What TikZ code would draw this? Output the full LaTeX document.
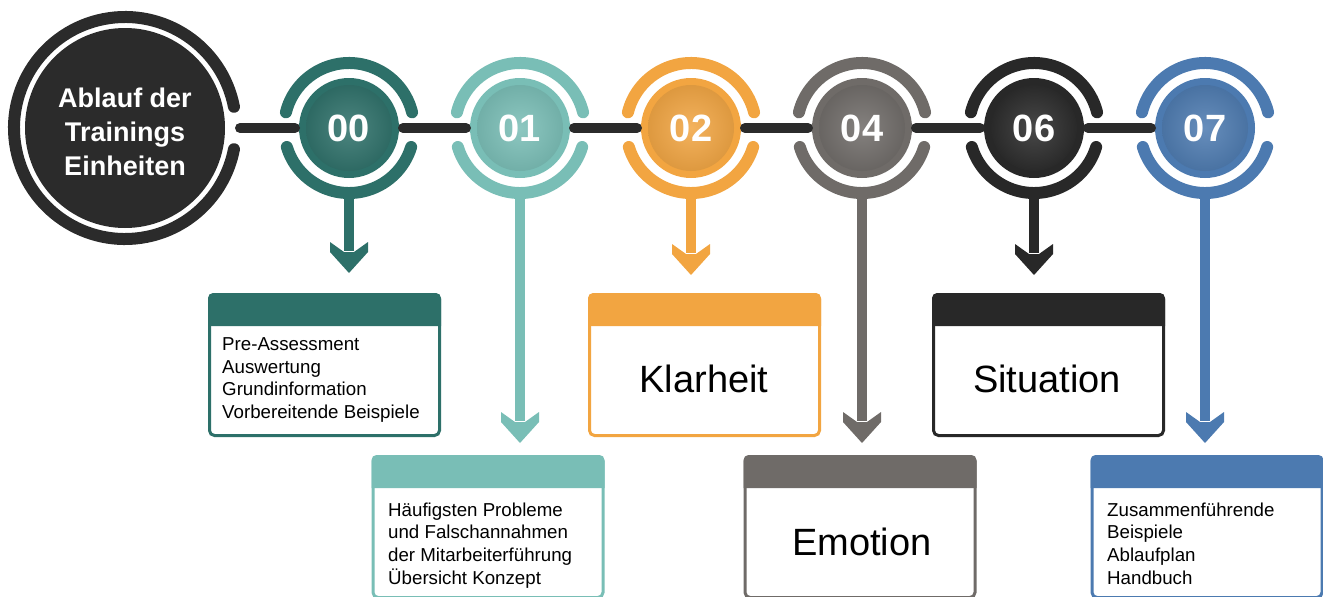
\documentclass[tikz,border=0pt]{standalone}
\usepackage{fontspec}
\setmainfont{Liberation Sans}
\usetikzlibrary{calc}
\definecolor{cA}{HTML}{2D7069}
\definecolor{cB}{HTML}{79BEB6}
\definecolor{cC}{HTML}{F2A541}
\definecolor{cD}{HTML}{6F6B68}
\definecolor{cE}{HTML}{282828}
\definecolor{cF}{HTML}{4C7AB0}
\definecolor{dark}{HTML}{2B2B2B}
\begin{document}
\begin{tikzpicture}[x=1pt,y=1pt,
  disk/.style={circle, minimum size=100pt, inner sep=0pt, outer sep=4pt, fill=#1,
    text=white, font=\bfseries\fontsize{38}{38}\selectfont,
    path picture={\shade[inner color=#1!85!white, outer color=#1!90!black]
      (path picture bounding box.center) circle (43pt);}},
  link/.style={draw=dark, line width=10pt, line cap=round},
  ring/.style={line width=12pt, line cap=round},
  stemline/.style={line width=10pt},
  box/.style={draw=#1, line width=3pt, fill=white, rounded corners=5pt,
    minimum width=230pt, minimum height=141pt, inner sep=0pt},
  listtext/.style={align=left, font=\fontsize{18.7}{22.7}\selectfont, inner sep=0pt, anchor=north west},
  bigtext/.style={font=\fontsize{38}{40}\selectfont, inner sep=0pt}
]
\clip (0,0) rectangle (1323,-597);
\useasboundingbox (0,0) rectangle (1323,-597);

% start circle
\node[circle, fill=dark, minimum size=200pt, inner sep=0pt, outer sep=15pt] (start) at (125,-128) {};
\node[text=white, align=center, inner sep=0pt, font=\bfseries\fontsize{27}{34}\selectfont]
  (starttext) at (125,-132) {Ablauf der\\Trainings\\Einheiten};
\draw[ring, dark] (start.center) ++(11:111) arc[start angle=11, end angle=349, radius=111];

% numbered disks
\node[disk=cA] (c00) at (349,-128) {00};
\node[disk=cB] (c01) at (520,-128) {01};
\node[disk=cC] (c02) at (691,-128) {02};
\node[disk=cD] (c04) at (862,-128) {04};
\node[disk=cE] (c06) at (1034,-128) {06};
\node[disk=cF] (c07) at (1205,-128) {07};

\foreach \n/\col in {00/cA,01/cB,02/cC,04/cD,06/cE,07/cF}{
  \draw[ring, \col] (c\n.center) ++(14:65) arc[start angle=14, end angle=166, radius=65];
  \draw[ring, \col] (c\n.center) ++(197:65) arc[start angle=197, end angle=343, radius=65];
}

% connectors
\draw[link] (start.east) -- (c00.west);
\draw[link] (c00.east) -- (c01.west);
\draw[link] (c01.east) -- (c02.west);
\draw[link] (c02.east) -- (c04.west);
\draw[link] (c04.east) -- (c06.west);
\draw[link] (c06.east) -- (c07.west);

% arrow tips
\coordinate (t00) at (349,-273);
\coordinate (t01) at (520,-443);
\coordinate (t02) at (691,-275);
\coordinate (t04) at (862,-443);
\coordinate (t06) at (1034,-275);
\coordinate (t07) at (1205,-443);
\foreach \n/\col in {00/cA,01/cB,02/cC,04/cD,06/cE,07/cF}{
  \draw[stemline, \col] ([yshift=-14pt]c\n.south) -- ([yshift=22pt]t\n);
  \fill[\col] (t\n) -- ++(-19,21) -- ++(0,10) -- ++(14,-10) -- ++(10,0) -- ++(14,10) -- ++(0,-10) -- cycle;
}

% boxes
\node[box=cA] (b00) at (324.5,-365) {};
\node[box=cB] (b01) at (488,-527) {};
\node[box=cC] (b02) at (704.5,-365) {};
\node[box=cD] (b04) at (860,-527) {};
\node[box=cE] (b06) at (1048.5,-365) {};
\node[box=cF] (b07) at (1207,-527) {};
\foreach \n/\col in {00/cA,01/cB,02/cC,04/cD,06/cE,07/cF}{
  \fill[\col] ([yshift=-33pt]b\n.north west) [rounded corners=5pt] -- (b\n.north west)
    -- (b\n.north east) [sharp corners] -- ([yshift=-33pt]b\n.north east) -- cycle;
}

% texts
\node[listtext] (l00) at (222,-334.5) {\strut Pre-Assessment\\Auswertung\\Grundinformation\\Vorbereitende Beispiele};
\node[listtext] (l01) at (388,-500) {\strut Häufigsten Probleme\\und Falschannahmen\\der Mitarbeiterführung\\Übersicht Konzept};
\node[listtext] (l07) at (1107,-500) {\strut Zusammenführende\\Beispiele\\Ablaufplan\\Handbuch};
\node[bigtext] (l02) at (704,-379) {Klarheit};
\node[bigtext] (l04) at (862,-542) {Emotion};
\node[bigtext] (l06) at (1047,-379) {Situation};
\end{tikzpicture}
\end{document}
